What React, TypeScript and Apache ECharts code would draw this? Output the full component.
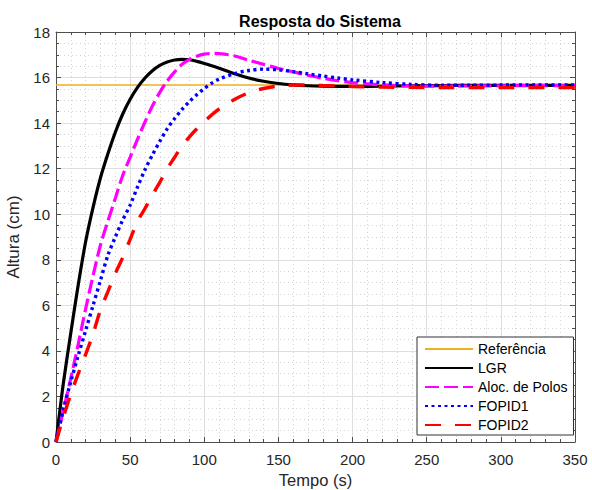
import React, { useEffect, useRef } from "react";
import * as echarts from "echarts";

const time = [0, 2, 5, 10, 15, 20, 25, 30, 35, 40, 45, 50, 55, 60, 65, 70, 75, 80, 85, 90, 95, 100, 105, 110, 120, 130, 140, 150, 160, 170, 180, 190, 200, 220, 240, 260, 280, 300, 325, 350];

const referencia = [[0, 15.67], [350, 15.67]];

const lgr = [0, 1.05, 2.6, 4.8, 6.9, 8.8, 10.3, 11.6, 12.65, 13.6, 14.4, 15.05, 15.57, 15.98, 16.3, 16.53, 16.68, 16.77, 16.8, 16.78, 16.71, 16.62, 16.52, 16.41, 16.18, 15.98, 15.84, 15.74, 15.68, 15.64, 15.62, 15.61, 15.61, 15.62, 15.64, 15.65, 15.66, 15.66, 15.66, 15.66];

const alocPolos = [0, 0.55, 1.4, 2.8, 4.3, 5.85, 7.3, 8.65, 9.7, 10.7, 11.7, 12.5, 13.3, 14.05, 14.75, 15.35, 15.85, 16.25, 16.58, 16.8, 16.94, 17.03, 17.06, 17.05, 16.96, 16.76, 16.58, 16.4, 16.25, 16.1, 15.97, 15.86, 15.78, 15.68, 15.63, 15.62, 15.63, 15.64, 15.65, 15.65];

const fopid1 = [0, 0.6, 1.45, 2.65, 3.8, 4.9, 6.0, 7.1, 8.2, 9.0, 9.75, 10.4, 11.2, 11.95, 12.6, 13.2, 13.75, 14.2, 14.6, 14.95, 15.25, 15.52, 15.75, 15.93, 16.17, 16.31, 16.37, 16.34, 16.26, 16.16, 16.07, 15.98, 15.9, 15.78, 15.7, 15.66, 15.66, 15.67, 15.68, 15.68];

const fopid2 = [0, 0.45, 1.1, 2.1, 3.0, 3.85, 4.75, 5.8, 6.6, 7.4, 8.1, 8.9, 9.7, 10.25, 10.85, 11.4, 12.0, 12.5, 13.0, 13.4, 13.75, 14.07, 14.36, 14.62, 15.03, 15.33, 15.52, 15.63, 15.67, 15.67, 15.65, 15.63, 15.61, 15.58, 15.57, 15.56, 15.56, 15.56, 15.56, 15.56];

const xTicks = { min: 0, max: 350, interval: 50 };
const yTicks = { min: 0, max: 18, interval: 2 };

const FONT = "'Liberation Sans', Arial, Helvetica, sans-serif";
const AXIS_COLOR = "#4d4d4d";

function pairs(ys: number[]) {
  return time.map((t, i) => [t, ys[i]]);
}

export default function App() {
  const ref = useRef<HTMLDivElement>(null);
  useEffect(() => {
    if (!ref.current) return;
    const chart = echarts.init(ref.current, null, { renderer: "svg" });
    const axisCommon = {
      type: "value" as const,
      axisLine: { show: true, onZero: false, lineStyle: { color: AXIS_COLOR, width: 1 } },
      axisTick: { show: true, inside: true, length: 5, lineStyle: { color: AXIS_COLOR } },
    };
    const xBase = {
      ...axisCommon,
      min: xTicks.min,
      max: xTicks.max,
      interval: xTicks.interval,
      minorTick: { show: true, splitNumber: 5, length: 3, lineStyle: { color: AXIS_COLOR } },
    };
    const yBase = {
      ...axisCommon,
      min: yTicks.min,
      max: yTicks.max,
      interval: yTicks.interval,
      minorTick: { show: true, splitNumber: 4, length: 3, lineStyle: { color: AXIS_COLOR } },
    };
    const lineSeries = (name: string, ys: number[], color: string, width: number, type: any) => ({
      name,
      type: "line",
      data: pairs(ys),
      showSymbol: false,
      symbol: "none",
      smooth: 0.3,
      lineStyle: { color, width, type, cap: "butt" },
      itemStyle: { color },
      xAxisIndex: 0,
      yAxisIndex: 0,
    });
    chart.setOption({
      animation: false,
      backgroundColor: "#ffffff",
      textStyle: { fontFamily: FONT },
      title: {
        text: "Resposta do Sistema",
        left: 315,
        textAlign: "center",
        top: 8,
        textStyle: { fontFamily: FONT, fontSize: 16, fontWeight: "bold", color: "#000" },
      },
      grid: { left: 56, right: 17, top: 32, bottom: 48, containLabel: false, outerBoundsMode: "none" },
      legend: {
        orient: "vertical",
        left: 417,
        top: 337,
        backgroundColor: "#ffffff",
        borderColor: "#333333",
        borderWidth: 1,
        borderRadius: 0,
        padding: [5, 6, 3, 7],
        itemWidth: 48,
        itemHeight: 14,
        itemGap: 5,
        itemStyle: { opacity: 0 },
        textStyle: { fontFamily: FONT, fontSize: 14, color: "#000" },
        data: ["Referência", "LGR", "Aloc. de Polos", "FOPID1", "FOPID2"],
      },
      xAxis: [
        {
          ...xBase,
          position: "bottom",
          name: "Tempo (s)",
          nameLocation: "middle",
          nameGap: 29,
          nameTextStyle: { fontFamily: FONT, fontSize: 16.5, color: "#262626", lineHeight: 17 },
          axisLabel: { fontFamily: FONT, fontSize: 15, color: "#262626", margin: 10 },
          splitLine: { show: true, lineStyle: { color: "#dedede", width: 1 } },
          minorSplitLine: { show: true, lineStyle: { color: "#d4d4d4", width: 1, type: [1, 3] } },
        },
        {
          ...xBase,
          position: "top",
          axisLabel: { show: false },
          splitLine: { show: false },
        },
      ],
      yAxis: [
        {
          ...yBase,
          position: "left",
          name: "Altura (cm)",
          nameLocation: "middle",
          nameGap: 22,
          nameTextStyle: { fontFamily: FONT, fontSize: 17, color: "#262626" },
          axisLabel: { fontFamily: FONT, fontSize: 15, color: "#262626", margin: 6 },
          splitLine: { show: true, lineStyle: { color: "#dedede", width: 1 } },
          minorSplitLine: { show: true, lineStyle: { color: "#d4d4d4", width: 1, type: [1, 3] } },
        },
        {
          ...yBase,
          position: "right",
          axisLabel: { show: false },
          splitLine: { show: false },
        },
      ],
      series: [
        {
          name: "Referência",
          type: "line",
          data: referencia,
          showSymbol: false,
          symbol: "none",
          lineStyle: { color: "#EDB120", width: 1.5 },
          itemStyle: { color: "#EDB120" },
        },
        lineSeries("LGR", lgr, "#000000", 3.2, "solid"),
        lineSeries("Aloc. de Polos", alocPolos, "#FF00FF", 3.2, [14, 5]),
        lineSeries("FOPID1", fopid1, "#0000FF", 3.4, [3, 3.5]),
        lineSeries("FOPID2", fopid2, "#FF0000", 3.4, [16, 14]),
      ],
    });
    return () => chart.dispose();
  }, []);
  return (
    <div
      ref={ref}
      style={{ position: "absolute", left: 0, top: 0, width: 592, height: 490, background: "#fff" }}
    />
  );
}
